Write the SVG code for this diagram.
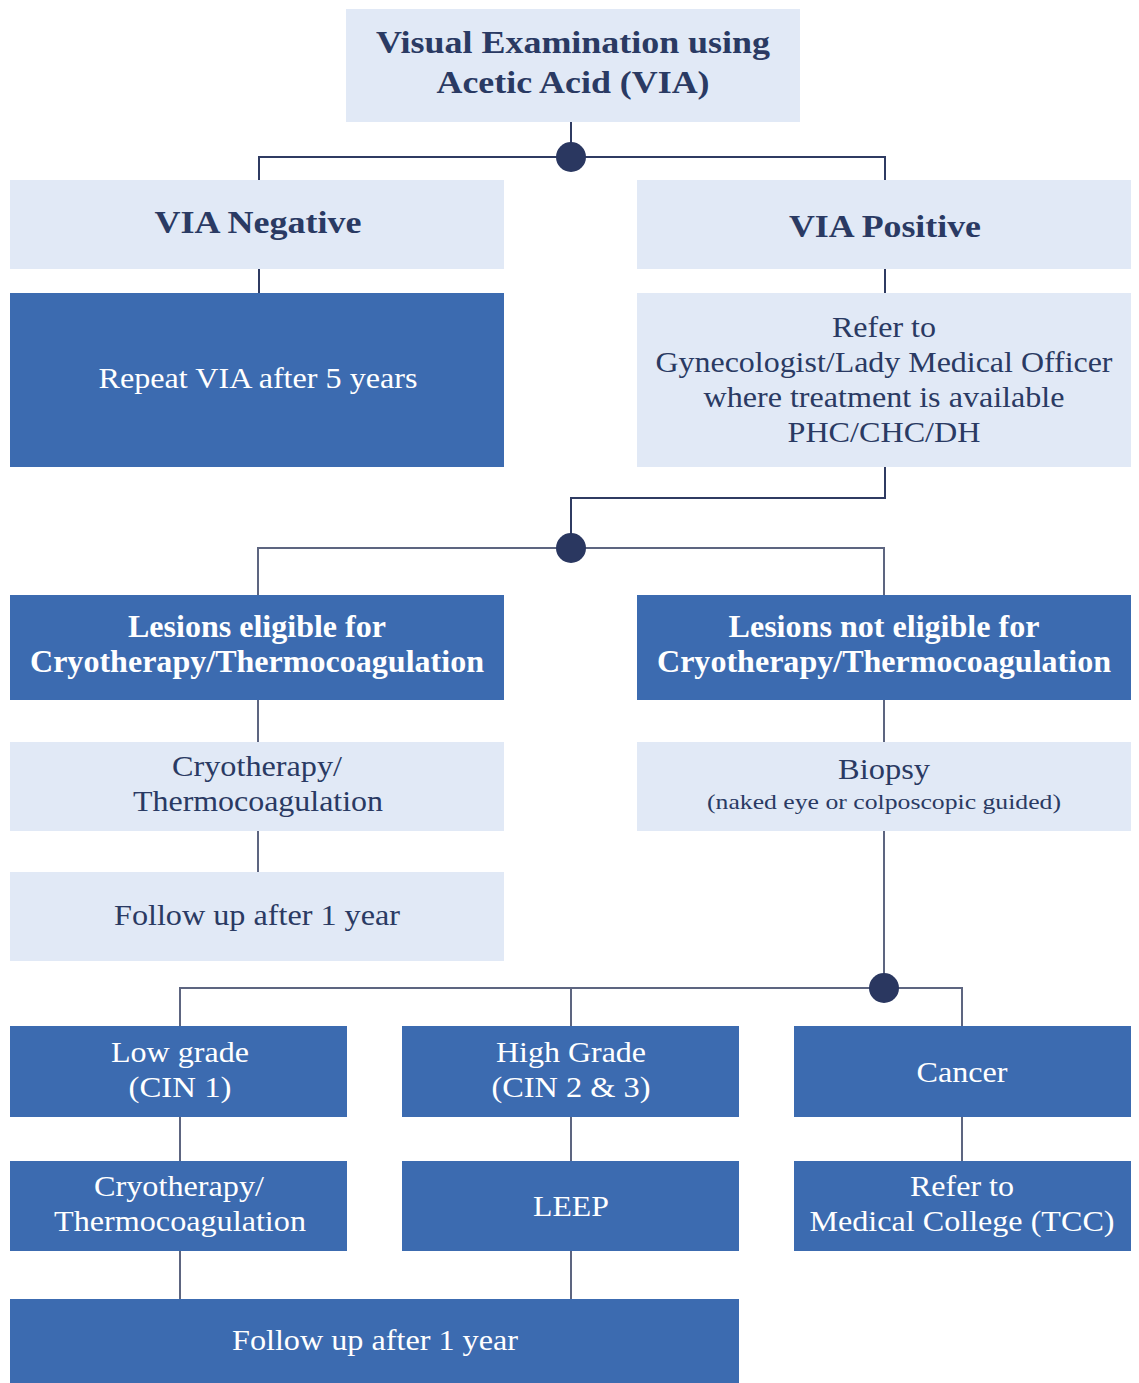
<svg xmlns="http://www.w3.org/2000/svg" width="1139" height="1383" viewBox="0 0 1139 1383">
<style>
.lt{fill:#e1e9f6}
.dk{fill:#3c6bb0}
.tn{font-family:"Liberation Serif","Times New Roman",serif;fill:#2a3a63;text-anchor:middle}
.tw{font-family:"Liberation Serif","Times New Roman",serif;fill:#ffffff;text-anchor:middle}
.b{font-weight:bold}
.c{fill:none;stroke:#2f3b62;stroke-width:2}
.g{fill:none;stroke:#5d6580;stroke-width:2}
.dot{fill:#2a3760}
</style>
<rect width="1139" height="1383" fill="#ffffff"/>
<g id="connectors">
<path class="c" d="M571 122V157M259 180V157H885V180"/>
<path class="c" d="M259 269V293M885 269V293"/>
<path class="c" d="M885 467V498H571V548"/>
<path class="g" d="M258 595V548H884V595"/>
<path class="g" d="M258 700V742M258 831V872M884 700V742M884 831V988"/>
<path class="g" d="M180 1026V988H962V1026M571 988V1026"/>
<path class="g" d="M180 1117V1161M571 1117V1161M962 1117V1161M180 1251V1299M571 1251V1299"/>
<circle class="dot" cx="571" cy="157" r="15"/>
<circle class="dot" cx="571" cy="548" r="15"/>
<circle class="dot" cx="884" cy="988" r="15"/>
</g>
<g id="via">
<rect class="lt" x="346" y="9" width="454" height="113"/>
<text class="tn b" font-size="32" x="573" y="53" textLength="394" lengthAdjust="spacingAndGlyphs">Visual Examination using</text>
<text class="tn b" font-size="32" x="573" y="93" textLength="273" lengthAdjust="spacingAndGlyphs">Acetic Acid (VIA)</text>
</g>
<g id="neg">
<rect class="lt" x="10" y="180" width="494" height="89"/>
<text class="tn b" font-size="32" x="258" y="233" textLength="207" lengthAdjust="spacingAndGlyphs">VIA Negative</text>
</g>
<g id="pos">
<rect class="lt" x="637" y="180" width="494" height="89"/>
<text class="tn b" font-size="32" x="885" y="237" textLength="192" lengthAdjust="spacingAndGlyphs">VIA Positive</text>
</g>
<g id="repeat">
<rect class="dk" x="10" y="293" width="494" height="174"/>
<text class="tw" font-size="30" x="258" y="388" textLength="319" lengthAdjust="spacingAndGlyphs">Repeat VIA after 5 years</text>
</g>
<g id="refer">
<rect class="lt" x="637" y="293" width="494" height="174"/>
<text class="tn" font-size="30" x="884" y="337" textLength="104" lengthAdjust="spacingAndGlyphs">Refer to</text>
<text class="tn" font-size="30" x="884" y="372" textLength="457" lengthAdjust="spacingAndGlyphs">Gynecologist/Lady Medical Officer</text>
<text class="tn" font-size="30" x="884" y="407" textLength="361" lengthAdjust="spacingAndGlyphs">where treatment is available</text>
<text class="tn" font-size="30" x="884" y="442" textLength="193" lengthAdjust="spacingAndGlyphs">PHC/CHC/DH</text>
</g>
<g id="elig">
<rect class="dk" x="10" y="595" width="494" height="105"/>
<text class="tw b" font-size="31" x="257" y="637" textLength="258" lengthAdjust="spacingAndGlyphs">Lesions eligible for</text>
<text class="tw b" font-size="31" x="257" y="672" textLength="454" lengthAdjust="spacingAndGlyphs">Cryotherapy/Thermocoagulation</text>
</g>
<g id="notelig">
<rect class="dk" x="637" y="595" width="494" height="105"/>
<text class="tw b" font-size="31" x="884" y="637" textLength="311" lengthAdjust="spacingAndGlyphs">Lesions not eligible for</text>
<text class="tw b" font-size="31" x="884" y="672" textLength="454" lengthAdjust="spacingAndGlyphs">Cryotherapy/Thermocoagulation</text>
</g>
<g id="cryo1">
<rect class="lt" x="10" y="742" width="494" height="89"/>
<text class="tn" font-size="30" x="257" y="776" textLength="170" lengthAdjust="spacingAndGlyphs">Cryotherapy/</text>
<text class="tn" font-size="30" x="258" y="811" textLength="250" lengthAdjust="spacingAndGlyphs">Thermocoagulation</text>
</g>
<g id="follow1">
<rect class="lt" x="10" y="872" width="494" height="89"/>
<text class="tn" font-size="30" x="257" y="925" textLength="286" lengthAdjust="spacingAndGlyphs">Follow up after 1 year</text>
</g>
<g id="biopsy">
<rect class="lt" x="637" y="742" width="494" height="89"/>
<text class="tn" font-size="29" x="884" y="779" textLength="92" lengthAdjust="spacingAndGlyphs">Biopsy</text>
<text class="tn" font-size="22" x="884" y="809" textLength="354" lengthAdjust="spacingAndGlyphs">(naked eye or colposcopic guided)</text>
</g>
<g id="low">
<rect class="dk" x="10" y="1026" width="337" height="91"/>
<text class="tw" font-size="30" x="180" y="1062" textLength="138" lengthAdjust="spacingAndGlyphs">Low grade</text>
<text class="tw" font-size="30" x="180" y="1097" textLength="103" lengthAdjust="spacingAndGlyphs">(CIN 1)</text>
</g>
<g id="high">
<rect class="dk" x="402" y="1026" width="337" height="91"/>
<text class="tw" font-size="30" x="571" y="1062" textLength="150" lengthAdjust="spacingAndGlyphs">High Grade</text>
<text class="tw" font-size="30" x="571" y="1097" textLength="159" lengthAdjust="spacingAndGlyphs">(CIN 2 &amp; 3)</text>
</g>
<g id="cancer">
<rect class="dk" x="794" y="1026" width="337" height="91"/>
<text class="tw" font-size="30" x="962" y="1082" textLength="91" lengthAdjust="spacingAndGlyphs">Cancer</text>
</g>
<g id="cryo2">
<rect class="dk" x="10" y="1161" width="337" height="90"/>
<text class="tw" font-size="30" x="179" y="1196" textLength="170" lengthAdjust="spacingAndGlyphs">Cryotherapy/</text>
<text class="tw" font-size="30" x="180" y="1231" textLength="252" lengthAdjust="spacingAndGlyphs">Thermocoagulation</text>
</g>
<g id="leep">
<rect class="dk" x="402" y="1161" width="337" height="90"/>
<text class="tw" font-size="30" x="571" y="1216" textLength="76" lengthAdjust="spacingAndGlyphs">LEEP</text>
</g>
<g id="tcc">
<rect class="dk" x="794" y="1161" width="337" height="90"/>
<text class="tw" font-size="30" x="962" y="1196" textLength="104" lengthAdjust="spacingAndGlyphs">Refer to</text>
<text class="tw" font-size="30" x="962" y="1231" textLength="305" lengthAdjust="spacingAndGlyphs">Medical College (TCC)</text>
</g>
<g id="follow2">
<rect class="dk" x="10" y="1299" width="729" height="84"/>
<text class="tw" font-size="30" x="375" y="1350" textLength="286" lengthAdjust="spacingAndGlyphs">Follow up after 1 year</text>
</g>
</svg>
